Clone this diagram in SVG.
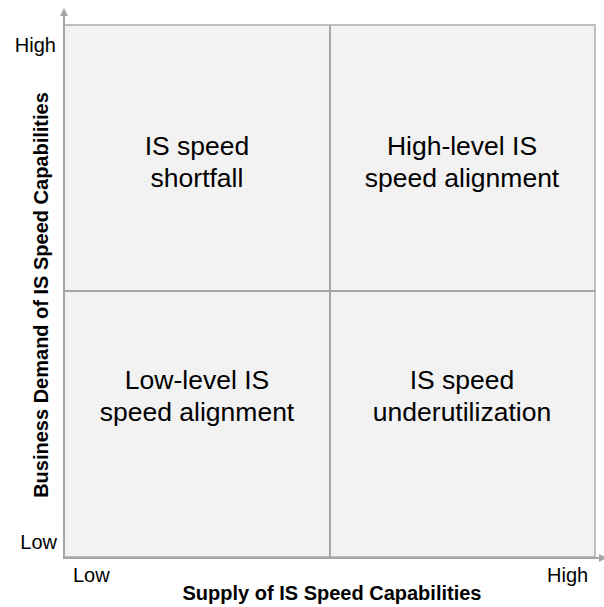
<svg xmlns="http://www.w3.org/2000/svg" width="604" height="607" viewBox="0 0 604 607">
  <style>
    .quad { fill: #f2f2f2; stroke: #bfbfbf; stroke-width: 2; }
    .div { stroke: #a6a6a6; stroke-width: 2; }
    .axis { stroke: #a6a6a6; stroke-width: 2; fill: none; }
    .lbl { font-family: "Liberation Sans", Arial, sans-serif; font-size: 26.5px; fill: #000; text-anchor: middle; }
    .tick { font-family: "Liberation Sans", Arial, sans-serif; font-size: 20px; fill: #000; }
    .title { font-family: "Liberation Sans", Arial, sans-serif; font-size: 20px; font-weight: bold; fill: #000; text-anchor: middle; }
  </style>
  <defs>
    <marker id="arrow" markerWidth="8" markerHeight="8" refX="4" refY="4" orient="auto" markerUnits="userSpaceOnUse">
      <path d="M0,0 L8,4 L0,8 Z" fill="#a6a6a6"/>
    </marker>
  </defs>

  <g id="quadrants">
    <rect class="quad" x="64" y="25" width="531" height="532"/>
    <line class="div" x1="330" y1="25" x2="330" y2="557"/>
    <line class="div" x1="64" y1="291" x2="595" y2="291"/>
  </g>

  <g id="axes">
    <line class="axis" x1="64" y1="558" x2="64" y2="12" marker-end="url(#arrow)"/>
    <line class="axis" x1="63" y1="558" x2="603" y2="558" marker-end="url(#arrow)"/>
  </g>

  <g id="q-top-left">
    <text class="lbl" x="197" y="155">IS speed</text>
    <text class="lbl" x="197" y="187">shortfall</text>
  </g>
  <g id="q-top-right">
    <text class="lbl" x="462" y="155">High-level IS</text>
    <text class="lbl" x="462" y="187">speed alignment</text>
  </g>
  <g id="q-bottom-left">
    <text class="lbl" x="197" y="389">Low-level IS</text>
    <text class="lbl" x="197" y="421">speed alignment</text>
  </g>
  <g id="q-bottom-right">
    <text class="lbl" x="462" y="389">IS speed</text>
    <text class="lbl" x="462" y="421">underutilization</text>
  </g>

  <g id="ticks">
    <text class="tick" x="56" y="52" text-anchor="end">High</text>
    <text class="tick" x="57" y="549" text-anchor="end">Low</text>
    <text class="tick" x="73" y="582">Low</text>
    <text class="tick" x="547" y="582">High</text>
  </g>

  <g id="axis-titles">
    <text class="title" x="332" y="600">Supply of IS Speed Capabilities</text>
    <text class="title" transform="translate(48,295) rotate(-90)">Business Demand of IS Speed Capabilities</text>
  </g>
</svg>
